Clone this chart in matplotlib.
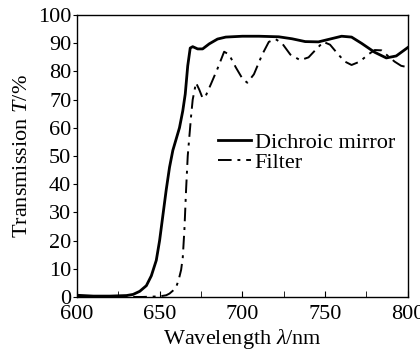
import matplotlib
matplotlib.use('Agg')
import matplotlib.pyplot as plt

plt.rcParams['font.family'] = ['Liberation Serif', 'DejaVu Serif']
plt.rcParams['mathtext.fontset'] = 'custom'
plt.rcParams['mathtext.it'] = 'Liberation Serif:italic'
plt.rcParams['mathtext.rm'] = 'Liberation Serif'

# dichroic mirror transmission (%)
mirror_nm = [600, 610, 620, 630, 634, 638, 642, 645, 648, 650, 652, 654, 656, 658,
             660, 662, 664, 665.5, 667, 668.5, 670, 673, 676, 680, 685, 690, 700, 710,
             722, 730, 738, 746, 753, 760, 766, 772, 780, 787, 793, 800]
mirror_T = [0.6, 0.3, 0.3, 0.5, 0.9, 2.0, 4.0, 7.5, 13, 20, 29, 38, 46, 52,
            56, 60, 66, 72, 82, 88.3, 88.8, 88.0, 88.0, 89.8, 91.5, 92.2, 92.5, 92.5,
            92.3, 91.6, 90.6, 90.5, 91.5, 92.5, 92.2, 90.0, 86.8, 84.8, 85.5, 88.5]

# filter transmission (%)
filter_nm = [600, 620, 640, 650, 654, 656, 658, 660, 661.5, 663, 664, 665, 666, 667,
             668, 669, 670, 672, 674, 676, 678, 681, 685, 689, 692, 696, 700, 703,
             707, 712, 716, 720, 724, 729, 735, 740, 744, 749, 753, 758, 762, 766,
             771, 776, 780, 784, 788, 792, 796, 800]
filter_T = [0.0, 0.0, 0.0, 0.2, 0.6, 1.2, 2.2, 3.5, 6, 9.6, 14, 24, 38, 50,
            57, 64, 70, 76, 73.5, 70.5, 71.5, 75.5, 81, 87, 86, 81.5, 77.5, 76,
            79, 86, 90.5, 91.5, 90, 86, 84, 85, 87.5, 90.5, 89.5, 86, 83.5, 82.3,
            83.5, 86, 87.6, 87.5, 85.5, 83.5, 82, 81.5]

fig = plt.figure(figsize=(4.2, 3.51), dpi=100)
ax = fig.add_axes([0.183, 0.154, 0.788, 0.803])

ax.plot(mirror_nm, mirror_T, 'k-', lw=2.0, label='Dichroic mirror')
ax.plot(filter_nm, filter_T, color='k', lw=1.4, linestyle=(0, (7, 3, 1.5, 3)), label='Filter')

ax.set_xlim(600, 800)
ax.set_ylim(0, 100)
ax.set_xticks([600, 650, 700, 750, 800])
ax.set_xticks([625, 675, 725, 775], minor=True)
ax.set_yticks(range(0, 101, 10))
ax.tick_params(axis='x', which='both', direction='in', length=4, labelsize=16, pad=6)
ax.tick_params(axis='y', direction='out', length=3, labelsize=16, pad=1)
for s in ax.spines.values():
    s.set_linewidth(1.0)

ax.set_xlabel(r'Wavelength $\lambda$/nm', fontsize=16, labelpad=2)
ax.set_ylabel(r'Transmission $T$/%', fontsize=16, labelpad=4)

ax.legend(loc='upper left', bbox_to_anchor=(0.426, 0.585), frameon=False, fontsize=16,
          handlelength=1.5, handletextpad=0.15, labelspacing=0.0, borderpad=0,
          borderaxespad=0)

fig.savefig('out.png', dpi=100)
